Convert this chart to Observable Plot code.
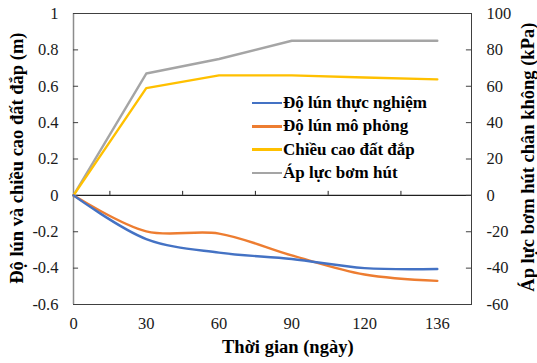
<!DOCTYPE html>
<html>
<head>
<meta charset="utf-8">
<script src="https://cdn.jsdelivr.net/npm/d3@7"></script>
<script src="https://cdn.jsdelivr.net/npm/@observablehq/plot@0.6"></script>
<style>
  html, body { margin: 0; padding: 0; background: #fff; }
  #wrap { position: relative; width: 537px; height: 363px; font-family: 'Liberation Serif'; }
  .title { position: absolute; font-family: 'Liberation Serif'; font-weight: bold; font-size: 18.5px; color: #000; white-space: nowrap; line-height: 1.1; }
  .legend { position: absolute; left: 252px; top: 91.4px; font-family: 'Liberation Serif'; font-weight: bold; font-size: 17px; color: #000; white-space: nowrap; }
  .legend .row { display: flex; align-items: center; height: 23.3px; }
  .legend .sw { width: 30px; height: 2.5px; margin-right: 1px; }
</style>
</head>
<body>
<div id="wrap"></div>
<script>
// Categories (days) and series values
const days = ["0", "30", "60", "90", "120", "136"];
const lunThucNghiem = [0, -0.24, -0.315, -0.35, -0.40, -0.405];   // m
const lunMoPhong   = [0, -0.198, -0.21, -0.33, -0.435, -0.47];   // m
const chieuCaoDat  = [0, 0.59, 0.66, 0.66, 0.648, 0.638];        // m
const apLucBom     = [0, 67, 75, 85, 85, 85];                    // kPa (right axis)
const seriesNames = ["Độ lún thực nghiệm", "Độ lún mô phỏng", "Chiều cao đất đắp", "Áp lực bơm hút"];
const seriesColors = ["#4472C4", "#ED7D31", "#FFC000", "#A5A5A5"];
const leftTicks = [-0.6, -0.4, -0.2, 0, 0.2, 0.4, 0.6, 0.8, 1];

const toRows = (vals) => vals.map((v, i) => ({i, v}));
const idx = days.map((d, i) => i);
const mids = idx.slice(0, -1).map(i => i + 0.5);
const xMax = 5.47;

const plot = Plot.plot({
  width: 537,
  height: 363,
  marginLeft: 73,
  marginRight: 66,
  marginTop: 13,
  marginBottom: 59,
  style: {fontFamily: "'Liberation Serif'", fontSize: "16.5px", color: "#1a1a1a", background: "#fff"},
  x: {type: "linear", domain: [0, xMax]},
  y: {domain: [-0.6, 1]},
  marks: [
    Plot.frame({stroke: "#404040", strokeWidth: 1}),
    Plot.ruleX([0], {stroke: "#8c8c8c", strokeWidth: 1.5}),
    Plot.ruleY([0], {stroke: "#202020", strokeWidth: 1.2}),
    Plot.ruleX(mids, {y1: 0, y2: 0.022, stroke: "#202020", strokeWidth: 1}),
    Plot.ruleY(leftTicks, {x1: 0, x2: 0.07, stroke: "#404040", strokeWidth: 1}),
    Plot.ruleY(leftTicks, {x1: xMax - 0.07, x2: xMax, stroke: "#404040", strokeWidth: 1}),
    Plot.axisY({anchor: "left", ticks: leftTicks, tickSize: 0, tickPadding: 15, label: null,
      fontSize: 16.5, tickFormat: d => (Math.round(d * 10) / 10).toString()}),
    Plot.axisY({anchor: "right", ticks: leftTicks, tickSize: 0, tickPadding: 15, label: null,
      fontSize: 16.5, tickFormat: d => Math.round(d * 100).toString()}),
    Plot.axisX({ticks: idx, tickSize: 0, tickPadding: 13, label: null, fontSize: 16.5, tickFormat: i => days[i]}),
    Plot.line(toRows(apLucBom), {x: "i", y: d => d.v / 100, stroke: seriesColors[3], strokeWidth: 2.4}),
    Plot.line(toRows(chieuCaoDat), {x: "i", y: "v", stroke: seriesColors[2], strokeWidth: 2.4}),
    Plot.line(toRows(lunMoPhong), {x: "i", y: "v", stroke: seriesColors[1], strokeWidth: 2.4, curve: "catmull-rom"}),
    Plot.line(toRows(lunThucNghiem), {x: "i", y: "v", stroke: seriesColors[0], strokeWidth: 2.4, curve: "catmull-rom"})
  ]
});

const wrap = document.getElementById("wrap");
wrap.appendChild(plot);

function addTitle(text, cx, cy, rot) {
  const el = document.createElement("div");
  el.className = "title";
  el.textContent = text;
  wrap.appendChild(el);
  const w = el.offsetWidth, h = el.offsetHeight;
  el.style.left = (cx - w / 2) + "px";
  el.style.top = (cy - h / 2) + "px";
  if (rot) el.style.transform = `rotate(${rot}deg)`;
}
addTitle("Thời gian (ngày)", 288, 347, 0);
addTitle("Độ lún và chiều cao đất đắp (m)", 17, 158, -90);
addTitle("Áp lực bơm hút chân không (kPa)", 528, 157, -90);

const leg = document.createElement("div");
leg.className = "legend";
seriesNames.forEach((name, k) => {
  const row = document.createElement("div");
  row.className = "row";
  const sw = document.createElement("span");
  sw.className = "sw";
  sw.style.background = seriesColors[k];
  const tx = document.createElement("span");
  tx.textContent = name;
  row.appendChild(sw);
  row.appendChild(tx);
  leg.appendChild(row);
});
wrap.appendChild(leg);
</script>
</body>
</html>
